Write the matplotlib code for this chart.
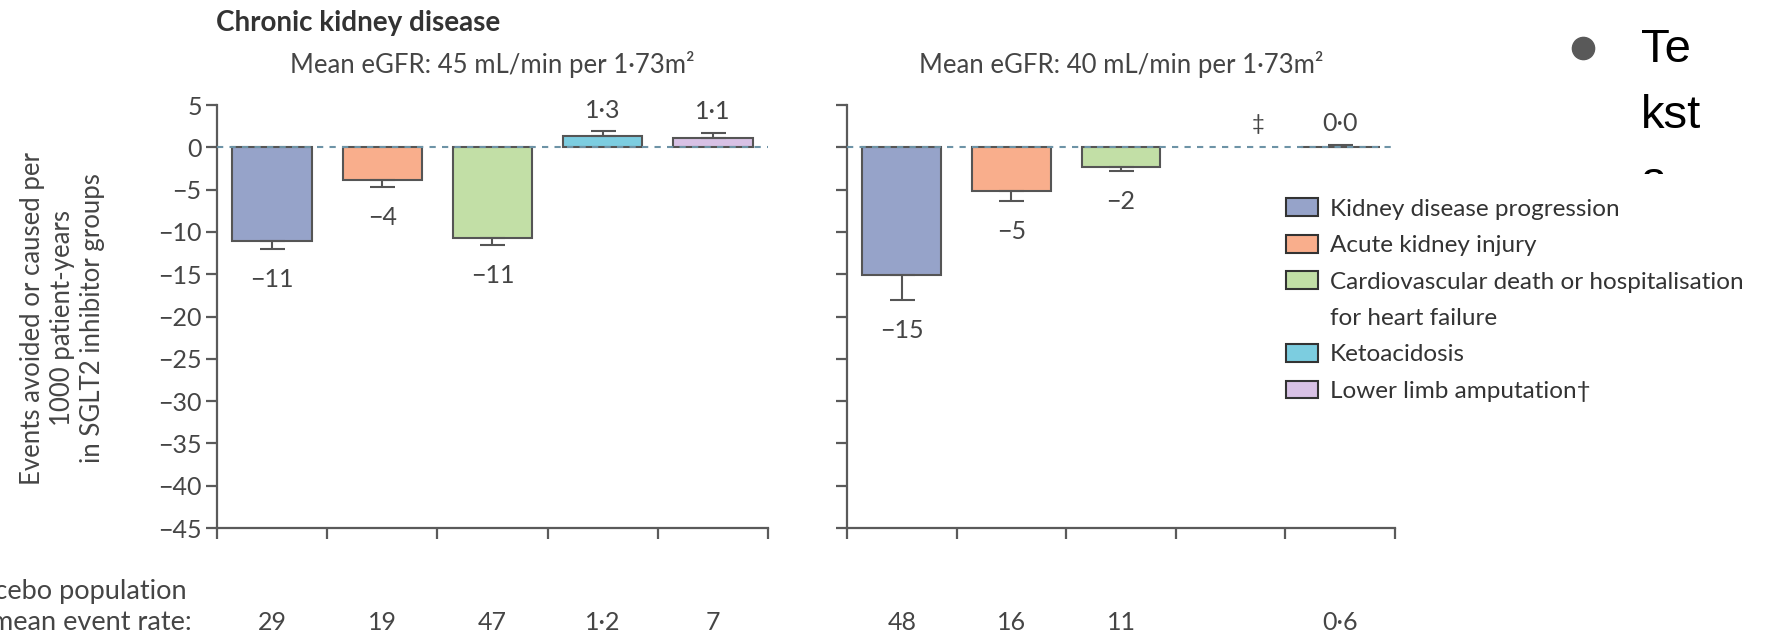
import numpy as np
import matplotlib
matplotlib.use('Agg')
from matplotlib import pyplot as plt
from matplotlib.patches import Patch
from matplotlib.lines import Line2D

plt.rcParams['font.family'] = ['Lato', 'DejaVu Sans']

categories = ['Kidney disease progression', 'Acute kidney injury',
              'Cardiovascular death or hospitalisation', 'Ketoacidosis',
              'Lower limb amputation†']
colors = ['#96a3c9', '#f9ae8c', '#c2dfa6', '#7ccde0', '#d8c1e5']

left_values = [-11.1, -3.9, -10.7, 1.3, 1.1]
left_err = [0.9, 0.8, 0.9, 0.6, 0.6]
left_labels = ['−11', '−4', '−11', '1·3', '1·1']
left_rates = ['29', '19', '47', '1·2', '7']

right_values = [-15.1, -5.2, -2.3, np.nan, 0.0]
right_err = [3.0, 1.1, 0.5, 0.0, 0.3]
right_labels = ['−15', '−5', '−2', '‡', '0·0']
right_rates = ['48', '16', '11', '', '0·6']

subtitles = ['Mean eGFR: 45 mL/min per 1·73m²', 'Mean eGFR: 40 mL/min per 1·73m²']

W, H = 1783, 639
fig = plt.figure(figsize=(W / 100, H / 100), dpi=100)
ax1 = fig.add_axes([217 / W, 1 - 528 / H, 551 / W, 423 / H])
ax2 = fig.add_axes([847 / W, 1 - 528 / H, 548 / W, 423 / H])

axis_col = '#5a5a5a'
text_col = '#454545'
x = np.arange(len(categories))

panels = [(ax1, left_values, left_err, left_labels, left_rates, subtitles[0]),
          (ax2, right_values, right_err, right_labels, right_rates, subtitles[1])]

for ax, vals, errs, labs, rates, sub in panels:
    vals = np.array(vals, dtype=float)
    errs = np.array(errs, dtype=float)
    ok = ~np.isnan(vals)
    lo = np.where(vals < 0, errs, 0)
    hi = np.where(vals >= 0, errs, 0)

    ax.bar(x[ok], vals[ok], width=0.72, color=np.array(colors)[ok], edgecolor='#555555',
           linewidth=1.5, zorder=2)
    ax.errorbar(x[ok], vals[ok], yerr=[lo[ok], hi[ok]], fmt='none', ecolor='#555555',
                elinewidth=1.5, capsize=9, capthick=1.5, zorder=2)
    ax.axhline(0, color='#6d93a6', lw=1.5, ls=(0, (3, 3)), zorder=3)

    for i, (v, e, lab) in enumerate(zip(vals, errs, labs)):
        if np.isnan(v):
            ax.text(i + 0.25, 2.7, lab, ha='center', va='center', fontsize=16, color=text_col)
        elif v < 0:
            ax.text(i, v - e - 3.6, lab, ha='center', va='center', fontsize=18, color=text_col)
        else:
            ax.text(i, v + e + 2.5, lab, ha='center', va='center', fontsize=18, color=text_col)

    ax.set_xlim(-0.5, 4.5)
    ax.set_ylim(-45, 5)
    for s in ['top', 'right']:
        ax.spines[s].set_visible(False)
    for s in ['left', 'bottom']:
        ax.spines[s].set_color(axis_col)
        ax.spines[s].set_linewidth(1.6)

    ax.set_yticks(np.arange(-45, 6, 5))
    ax.set_xticks(x, rates)
    ax.set_xticks(np.arange(-0.5, 5, 1), minor=True)
    ax.tick_params(axis='x', which='major', length=0, pad=60, labelsize=18, labelcolor=text_col)
    ax.tick_params(axis='x', which='minor', length=8, width=1.6, color=axis_col)
    ax.tick_params(axis='y', length=8, width=1.6, color=axis_col, labelsize=18,
                   labelcolor=text_col, pad=3)

    ax.text(0.5, 1.095, sub, transform=ax.transAxes, ha='center', va='center',
            fontsize=18.5, color=text_col)

ax2.tick_params(axis='y', labelleft=False)

fig.text(216 / W, 1 - 23 / H, 'Chronic kidney disease', fontweight='bold', fontsize=20,
         va='center', color='#333333')
fig.text(63 / W, 1 - 318 / H,
         'Events avoided or caused per\n1000 patient-years\nin SGLT2 inhibitor groups',
         rotation=90, ha='center', va='center', multialignment='center',
         fontsize=18.5, color=text_col, linespacing=1.25)
fig.text(187 / W, 1 - 591 / H, 'Placebo population', ha='right', va='center',
         fontsize=19.5, color=text_col)
fig.text(192 / W, 1 - 623 / H, 'mean event rate:', ha='right', va='center',
         fontsize=19.5, color=text_col)

# slide text behind the legend
teksta = ['Te', 'kst', 'a']
for i, t in enumerate(teksta):
    fig.text(1641 / W, 1 - (62 + 66 * i) / H, t, fontsize=34, family='Liberation Sans',
             va='baseline', color='black', zorder=1)
fig.add_artist(Line2D([1583 / W], [1 - 48 / H], marker='o', markersize=16,
                      color='#595959', transform=fig.transFigure))

handles = [Patch(facecolor=c, edgecolor='#333333', linewidth=1.5) for c in colors]
labels = list(categories)
handles.insert(3, Patch(facecolor='none', edgecolor='none'))
labels.insert(3, 'for heart failure')
leg = fig.legend(handles, labels, loc='upper left', bbox_to_anchor=(1262 / W, 1 - 174 / H),
                 frameon=True, facecolor='white', edgecolor='none', framealpha=1,
                 fancybox=False, fontsize=17.5, handlelength=1.3, handleheight=0.75,
                 handletextpad=0.5, labelspacing=0.62, borderpad=1.0, borderaxespad=0,
                 labelcolor='#333333')
leg.set_zorder(5)

fig.savefig('out.png', dpi=100)
